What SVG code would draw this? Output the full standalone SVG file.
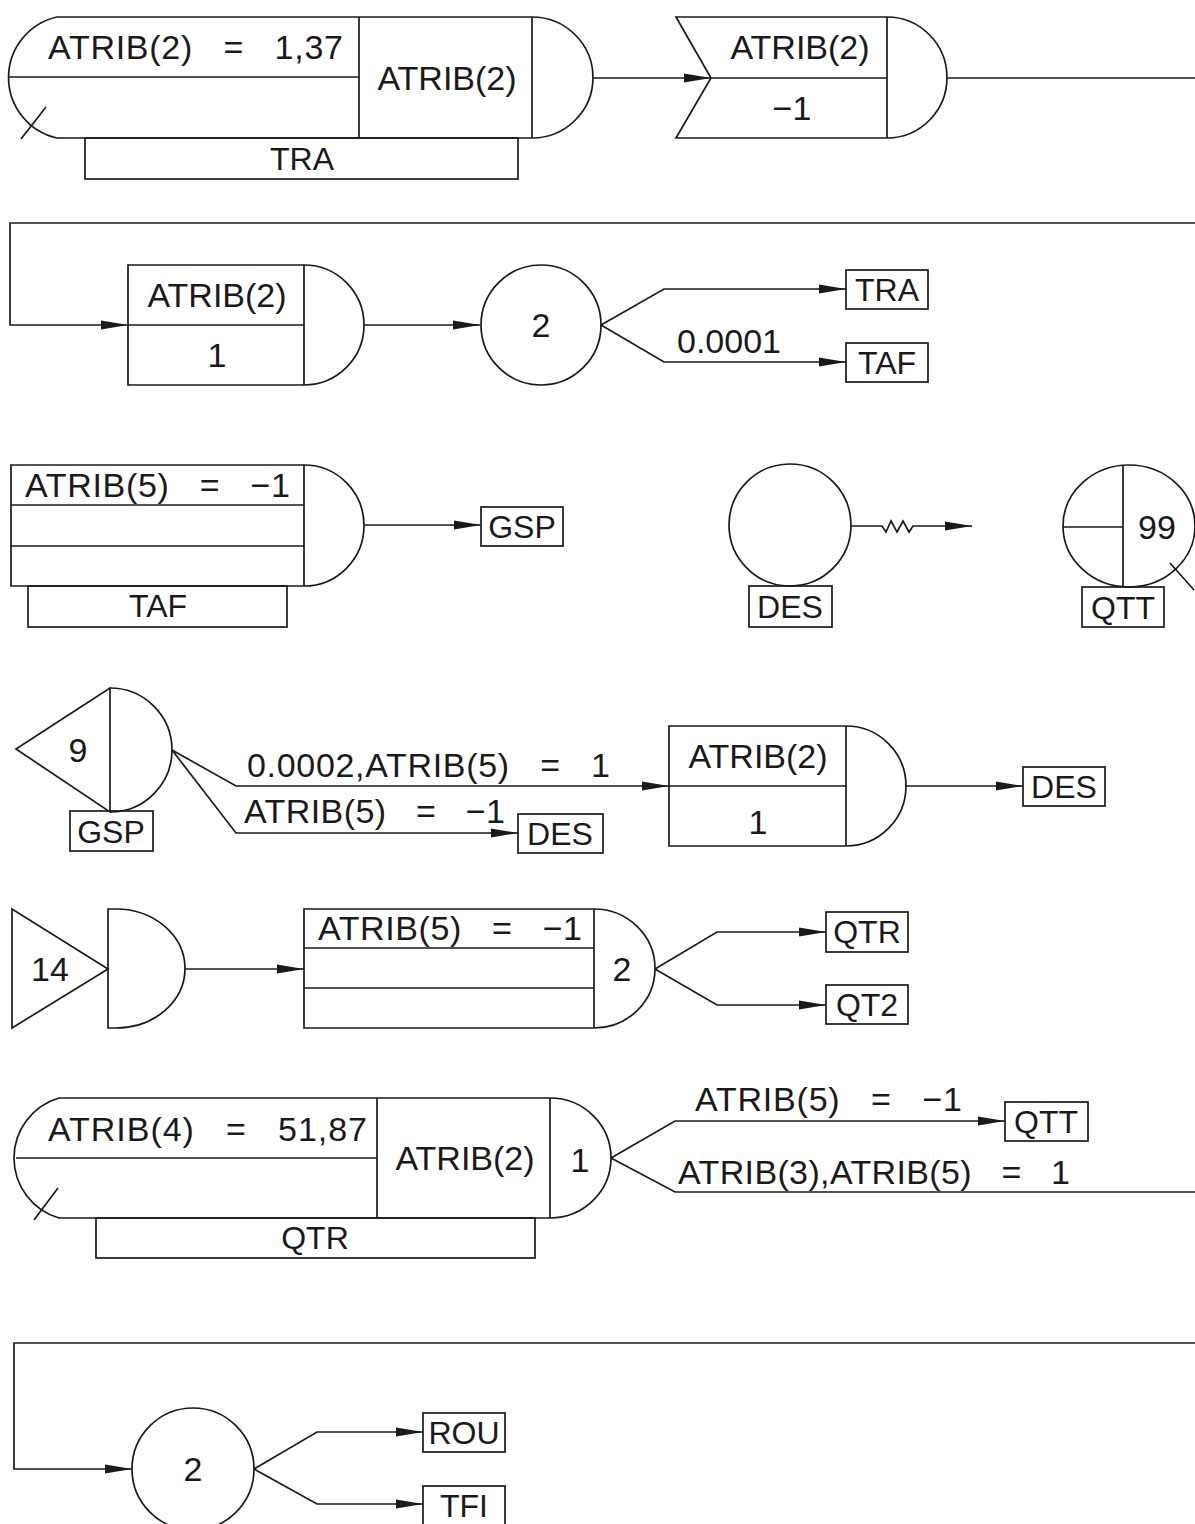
<svg xmlns="http://www.w3.org/2000/svg" width="1195" height="1524" viewBox="0 0 1195 1524">
<style>
.s{fill:none;stroke:#1a1a1a;stroke-width:1.7;stroke-linejoin:miter}
.t{font-family:"Liberation Sans",Arial,sans-serif;font-size:34px;fill:#1a1a1a}
.b{font-family:"Liberation Sans",Arial,sans-serif;font-size:32px;fill:#1a1a1a;text-anchor:middle}
.m{text-anchor:middle}
.c{fill:none;stroke:#1a1a1a;stroke-width:1.7}
.a{marker-end:url(#ah)}
</style>
<defs>
<marker id="ah" markerUnits="userSpaceOnUse" markerWidth="28" markerHeight="10" refX="27" refY="5" orient="auto">
<path d="M0,0.5 L27,5 L0,9.5 Z" fill="#1a1a1a"/>
</marker>
</defs>
<rect x="0" y="0" width="1195" height="1524" fill="#fff"/>

<g id="connectors">
<path class="c a" d="M593,78 H711"/>
<path class="c" d="M947,78 H1195"/>
<path class="c a" d="M1195,223 H10 V325 H128"/>
<path class="c a" d="M364,325 H480"/>
<path class="c a" d="M601,325 L664,289 H846"/>
<path class="c a" d="M601,325 L664,362 H846"/>
<path class="c a" d="M364,525 H481"/>
<path class="c a" d="M851,526 H882 L886,532 L891,521 L897,532 L903,521 L909,532 L913,526 H972"/>
<path class="c a" d="M172,750 L236,786 H669"/>
<path class="c a" d="M172,750 L236,833 H518"/>
<path class="c a" d="M906,786 H1023"/>
<path class="c a" d="M185,969 H304"/>
<path class="c a" d="M655,969 L717,932 H826"/>
<path class="c a" d="M655,969 L717,1005 H826"/>
<path class="c a" d="M611,1158 L675,1121 H1005"/>
<path class="c" d="M611,1158 L675,1192 H1195"/>
<path class="c a" d="M1195,1343 H14 V1469 H132"/>
<path class="c a" d="M254,1469 L317,1432 H423"/>
<path class="c a" d="M254,1469 L317,1504 H423"/>
<text class="t" x="677" y="353">0.0001</text>
<text class="t" x="247" y="777" xml:space="preserve" textLength="363" lengthAdjust="spacing">0.0002,ATRIB(5)   =   1</text>
<text class="t" x="244" y="823" xml:space="preserve" textLength="261" lengthAdjust="spacing">ATRIB(5)   =   −1</text>
<text class="t" x="695" y="1111" xml:space="preserve" textLength="267" lengthAdjust="spacing">ATRIB(5)   =   −1</text>
<text class="t" x="678" y="1184" xml:space="preserve" textLength="392" lengthAdjust="spacing">ATRIB(3),ATRIB(5)   =   1</text>
</g>

<g id="node_queue_tra">
<path class="s" d="M57,17 H532 A61,60.5 0 0 1 532,138 H57 A62,62 0 0 1 57,17 Z"/>
<path class="s" d="M359,17 V138 M532,17 V138 M9,77 H359 M21,139 L46,107"/>
<rect class="s" x="85" y="138" width="433" height="41"/>
<text class="t" x="48" y="59" xml:space="preserve" textLength="295" lengthAdjust="spacing">ATRIB(2)   =   1,37</text>
<text class="t m" x="447" y="90">ATRIB(2)</text>
<text class="b" x="302" y="170">TRA</text>
</g>

<g id="node_unbatch">
<path class="s" d="M676,17 H887 A60,60.5 0 0 1 887,138 H676 L711,78 Z"/>
<path class="s" d="M887,17 V138 M711,78 H887"/>
<text class="t m" x="800" y="59">ATRIB(2)</text>
<text class="t m" x="792" y="120">−1</text>
</g>

<g id="node_assign1">
<path class="s" d="M128,265 H304 A60,60 0 0 1 304,385 H128 Z"/>
<path class="s" d="M304,265 V385 M128,325 H304"/>
<text class="t m" x="217" y="307">ATRIB(2)</text>
<text class="t m" x="217" y="367">1</text>
</g>

<g id="node_goon1">
<circle class="s" cx="541" cy="325" r="60"/>
<text class="t m" x="541" y="337">2</text>
</g>
<g id="lbl_tra"><rect class="s" x="846" y="270" width="82" height="39"/><text class="b" x="887" y="301">TRA</text></g>
<g id="lbl_taf"><rect class="s" x="846" y="343" width="82" height="39"/><text class="b" x="887" y="374">TAF</text></g>

<g id="node_queue_taf">
<path class="s" d="M11,465 H304 A60,60.5 0 0 1 304,586 H11 Z"/>
<path class="s" d="M304,465 V586 M11,505 H304 M11,546 H304"/>
<rect class="s" x="28" y="586" width="259" height="41"/>
<text class="t" x="25" y="497" xml:space="preserve" textLength="265" lengthAdjust="spacing">ATRIB(5)   =   −1</text>
<text class="b" x="158" y="617">TAF</text>
</g>
<g id="lbl_gsp1"><rect class="s" x="481" y="507" width="82" height="39"/><text class="b" x="522" y="538">GSP</text></g>

<g id="node_des">
<circle class="s" cx="790" cy="525" r="61"/>
<rect class="s" x="749" y="586" width="83" height="41"/>
<text class="b" x="790" y="618">DES</text>
</g>

<g id="node_qtt">
<ellipse class="s" cx="1129" cy="526" rx="66" ry="61"/>
<path class="s" d="M1123,466 V587 M1063,527 H1123 M1170,563 L1194,590"/>
<rect class="s" x="1082" y="587" width="82" height="40"/>
<text class="t m" x="1157" y="539">99</text>
<text class="b" x="1123" y="619">QTT</text>
</g>

<g id="node_gsp">
<path class="s" d="M16,749 L110,688 L110,812 Z"/>
<path class="s" d="M110,688 A62,62 0 0 1 110,812"/>
<rect class="s" x="70" y="811" width="83" height="40"/>
<text class="t m" x="78" y="762">9</text>
<text class="b" x="111" y="843">GSP</text>
</g>
<g id="lbl_des1"><rect class="s" x="518" y="814" width="85" height="39"/><text class="b" x="560" y="845">DES</text></g>

<g id="node_assign2">
<path class="s" d="M669,726 H846 A60,60 0 0 1 846,846 H669 Z"/>
<path class="s" d="M846,726 V846 M669,786 H846"/>
<text class="t m" x="758" y="768">ATRIB(2)</text>
<text class="t m" x="758" y="834">1</text>
</g>
<g id="lbl_des2"><rect class="s" x="1023" y="767" width="82" height="39"/><text class="b" x="1064" y="798">DES</text></g>

<g id="node_create">
<path class="s" d="M12,909 L12,1028 L108,969 Z"/>
<path class="s" d="M108,909 H116 A69,59.5 0 0 1 116,1028 H108 Z"/>
<text class="t m" x="50" y="981">14</text>
</g>

<g id="node_assign3">
<path class="s" d="M304,909 H594 A61,59.5 0 0 1 594,1028 H304 Z"/>
<path class="s" d="M594,909 V1028 M304,948 H594 M304,988 H594"/>
<text class="t" x="318" y="940" xml:space="preserve" textLength="264" lengthAdjust="spacing">ATRIB(5)   =   −1</text>
<text class="t m" x="622" y="981">2</text>
</g>
<g id="lbl_qtr"><rect class="s" x="826" y="912" width="82" height="40"/><text class="b" x="867" y="943">QTR</text></g>
<g id="lbl_qt2"><rect class="s" x="826" y="985" width="82" height="39"/><text class="b" x="867" y="1016">QT2</text></g>

<g id="node_queue_qtr">
<path class="s" d="M59,1098 H550 A61,60 0 0 1 550,1218 H59 A62.5,62.5 0 0 1 59,1098 Z"/>
<path class="s" d="M377,1098 V1218 M550,1098 V1218 M16,1158 H377 M34,1220 L58,1188"/>
<rect class="s" x="96" y="1218" width="439" height="40"/>
<text class="t" x="48" y="1141" xml:space="preserve" textLength="319" lengthAdjust="spacing">ATRIB(4)   =   51,87</text>
<text class="t m" x="465" y="1170">ATRIB(2)</text>
<text class="t m" x="580" y="1172">1</text>
<text class="b" x="315" y="1249">QTR</text>
</g>
<g id="lbl_qtt"><rect class="s" x="1005" y="1102" width="83" height="39"/><text class="b" x="1046" y="1133">QTT</text></g>

<g id="node_goon2">
<circle class="s" cx="193" cy="1469" r="61"/>
<text class="t m" x="193" y="1481">2</text>
</g>
<g id="lbl_rou"><rect class="s" x="423" y="1413" width="82" height="39"/><text class="b" x="464" y="1444">ROU</text></g>
<g id="lbl_tfi"><rect class="s" x="423" y="1486" width="82" height="40"/><text class="b" x="464" y="1517">TFI</text></g>
</svg>
